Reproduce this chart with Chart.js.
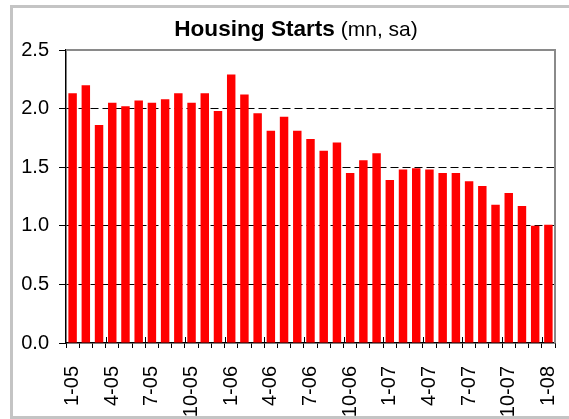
<!DOCTYPE html>
<html>
<head>
<meta charset="utf-8">
<script src="https://cdn.jsdelivr.net/npm/chart.js@4/dist/chart.umd.min.js"></script>
<style>
  html, body { margin: 0; padding: 0; background: #fff; }
  canvas { display: block; }
</style>
</head>
<body>
<canvas id="grafico" width="569" height="419"></canvas>
<script>
// monthly housing starts, millions, seasonally adjusted
const months = [
    "1-05", "2-05", "3-05", "4-05", "5-05", "6-05", "7-05", "8-05", "9-05", "10-05", "11-05", "12-05",
    "1-06", "2-06", "3-06", "4-06", "5-06", "6-06", "7-06", "8-06", "9-06", "10-06", "11-06", "12-06",
    "1-07", "2-07", "3-07", "4-07", "5-07", "6-07", "7-07", "8-07", "9-07", "10-07", "11-07", "12-07",
    "1-08"
];
const starts = [
    2.13, 2.20, 1.86, 2.05, 2.02, 2.07, 2.05, 2.08, 2.13, 2.05, 2.13, 1.98,
    2.29, 2.12, 1.96, 1.81, 1.93, 1.81, 1.74, 1.64, 1.71, 1.45, 1.56, 1.62,
    1.39, 1.48, 1.49, 1.48, 1.45, 1.45, 1.38, 1.34, 1.18, 1.28, 1.17, 1.00,
    1.01
];
const yMin = 0;
const yMax = 2.5;
const yStep = 0.5;
const labelEvery = 3;
const titleMain = "Housing Starts";
const titleUnit = " (mn, sa)";

const FONT = "'Liberation Sans', Arial, sans-serif";

const decor = {
    id: 'decor',
    beforeDraw(chart) {
        const ctx = chart.ctx;
        ctx.save();
        ctx.fillStyle = '#fff';
        ctx.fillRect(0, 0, chart.width, chart.height);
        ctx.strokeStyle = '#c4c4c4';
        ctx.lineWidth = 3;
        ctx.strokeRect(11.5, 6.5, chart.width + 10, chart.height - 8);
        ctx.restore();
    },
    afterDraw(chart) {
        const ctx = chart.ctx;
        const a = chart.chartArea;
        const x = chart.scales.x;
        ctx.save();

        // plot frame, top and right
        ctx.strokeStyle = '#8a8a8a';
        ctx.lineWidth = 2;
        ctx.beginPath();
        ctx.moveTo(a.left, a.top);
        ctx.lineTo(a.right, a.top);
        ctx.lineTo(a.right, a.bottom);
        ctx.stroke();

        // longer tick marks before each labelled month
        ctx.strokeStyle = '#000';
        ctx.lineWidth = 1;
        ctx.beginPath();
        for (let i = labelEvery; i < months.length; i += labelEvery) {
            const px = Math.round((x.getPixelForTick(i) + x.getPixelForTick(i - 1)) / 2) + 0.5;
            ctx.moveTo(px, a.bottom - 6);
            ctx.lineTo(px, a.bottom);
        }
        ctx.stroke();

        // title: bold name + plain unit
        ctx.fillStyle = '#000';
        ctx.textBaseline = 'alphabetic';
        ctx.textAlign = 'left';
        ctx.font = "bold 22.6px " + FONT;
        const w1 = ctx.measureText(titleMain).width;
        ctx.font = "21px " + FONT;
        const w2 = ctx.measureText(titleUnit).width;
        const startX = 296 - (w1 + w2) / 2;
        ctx.font = "bold 22.6px " + FONT;
        ctx.fillText(titleMain, startX, 36);
        ctx.font = "21px " + FONT;
        ctx.fillText(titleUnit, startX + w1, 36);
        ctx.restore();
    }
};

const ctx = document.getElementById("grafico").getContext("2d");

new Chart(ctx, {
    type: "bar",
    data: {
        labels: months,
        datasets: [{
            label: "Housing Starts",
            data: starts,
            backgroundColor: "#ff0000",
            borderWidth: 0,
            categoryPercentage: 1,
            barPercentage: 0.64
        }]
    },
    options: {
        responsive: false,
        animation: false,
        layout: { padding: { top: 50, left: 13, right: 14, bottom: 0 } },
        plugins: {
            legend: { display: false },
            title: { display: false },
            tooltip: { enabled: false }
        },
        scales: {
            x: {
                offset: true,
                afterFit: s => {
                    s.height = 76;
                    s.paddingLeft = 0;
                    s.paddingRight = 0;
                },
                grid: {
                    offset: true,
                    drawOnChartArea: false,
                    drawTicks: true,
                    tickLength: 5,
                    tickColor: '#000'
                },
                border: { color: '#000', width: 1.5 },
                ticks: {
                    autoSkip: false,
                    minRotation: 90,
                    maxRotation: 90,
                    padding: 18,
                    color: '#000',
                    font: { family: FONT, size: 20 },
                    callback: (v, i) => (i % labelEvery === 0 ? months[i] : '')
                }
            },
            y: {
                min: yMin,
                max: yMax,
                afterFit: s => { s.width = 53; },
                grid: {
                    color: c => (c.tick && (c.tick.value === yMin || c.tick.value === yMax)) ? 'rgba(0,0,0,0)' : '#000',
                    tickColor: '#000',
                    tickBorderDash: [],
                    tickLength: 7,
                    lineWidth: 1
                },
                border: { color: '#000', width: 1.5, dash: [8, 4] },
                ticks: {
                    stepSize: yStep,
                    padding: 10,
                    color: '#000',
                    font: { family: FONT, size: 20 },
                    callback: v => Number(v).toFixed(1)
                }
            }
        }
    },
    plugins: [decor]
});
</script>
</body>
</html>
